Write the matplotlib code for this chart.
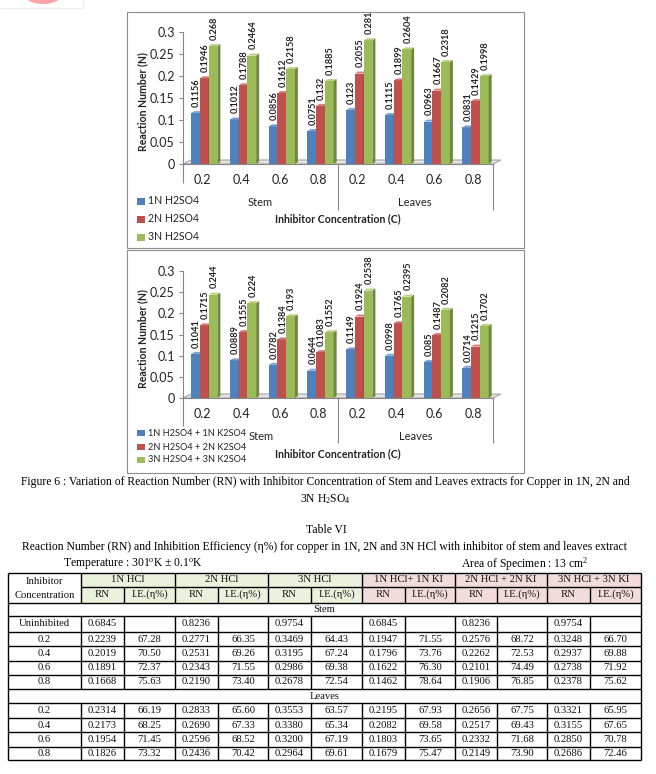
import matplotlib
matplotlib.use("Agg")
import matplotlib.pyplot as plt
from matplotlib.patches import Rectangle, Polygon, Ellipse

plt.rcParams['mathtext.default'] = 'regular'

# chart data
conc = ["0.2", "0.4", "0.6", "0.8", "0.2", "0.4", "0.6", "0.8"]
y_ticks = [0, 0.05, 0.1, 0.15, 0.2, 0.25, 0.3]
y_tick_labels = ["0", "0.05", "0.1", "0.15", "0.2", "0.25", "0.3"]

h1 = [0.1156, 0.1012, 0.0856, 0.0751, 0.123, 0.1115, 0.0963, 0.0831]
h2 = [0.1946, 0.1788, 0.1612, 0.132, 0.2055, 0.1899, 0.1667, 0.1429]
h3 = [0.268, 0.2464, 0.2158, 0.1885, 0.281, 0.2604, 0.2318, 0.1998]
h1_labels = ["0.1156", "0.1012", "0.0856", "0.0751", "0.123", "0.1115", "0.0963", "0.0831"]
h2_labels = ["0.1946", "0.1788", "0.1612", "0.132", "0.2055", "0.1899", "0.1667", "0.1429"]
h3_labels = ["0.268", "0.2464", "0.2158", "0.1885", "0.281", "0.2604", "0.2318", "0.1998"]

k1 = [0.1041, 0.0889, 0.0782, 0.0644, 0.1149, 0.0998, 0.085, 0.0714]
k2 = [0.1715, 0.1555, 0.1384, 0.1083, 0.1924, 0.1765, 0.1487, 0.1215]
k3 = [0.244, 0.224, 0.193, 0.1552, 0.2538, 0.2395, 0.2082, 0.1702]
k1_labels = ["0.1041", "0.0889", "0.0782", "0.0644", "0.1149", "0.0998", "0.085", "0.0714"]
k2_labels = ["0.1715", "0.1555", "0.1384", "0.1083", "0.1924", "0.1765", "0.1487", "0.1215"]
k3_labels = ["0.244", "0.224", "0.193", "0.1552", "0.2538", "0.2395", "0.2082", "0.1702"]

legend1 = ["1N H2SO4", "2N H2SO4", "3N H2SO4"]
legend2 = ["1N H2SO4 + 1N K2SO4", "2N H2SO4 + 2N K2SO4", "3N H2SO4 + 3N K2SO4"]

# table data
acid_heads = ["1N HCl", "2N HCl", "3N HCl", "1N HCl+ 1N KI", "2N HCl + 2N KI", "3N HCl + 3N KI"]
stem_rows = [
    ["Uninhibited", "0.6845", "", "0.8236", "", "0.9754", "", "0.6845", "", "0.8236", "", "0.9754", ""],
    ["0.2", "0.2239", "67.28", "0.2771", "66.35", "0.3469", "64.43", "0.1947", "71.55", "0.2576", "68.72", "0.3248", "66.70"],
    ["0.4", "0.2019", "70.50", "0.2531", "69.26", "0.3195", "67.24", "0.1796", "73.76", "0.2262", "72.53", "0.2937", "69.88"],
    ["0.6", "0.1891", "72.37", "0.2343", "71.55", "0.2986", "69.38", "0.1622", "76.30", "0.2101", "74.49", "0.2738", "71.92"],
    ["0.8", "0.1668", "75.63", "0.2190", "73.40", "0.2678", "72.54", "0.1462", "78.64", "0.1906", "76.85", "0.2378", "75.62"],
]
leaves_rows = [
    ["0.2", "0.2314", "66.19", "0.2833", "65.60", "0.3553", "63.57", "0.2195", "67.93", "0.2656", "67.75", "0.3321", "65.95"],
    ["0.4", "0.2173", "68.25", "0.2690", "67.33", "0.3380", "65.34", "0.2082", "69.58", "0.2517", "69.43", "0.3155", "67.65"],
    ["0.6", "0.1954", "71.45", "0.2596", "68.52", "0.3200", "67.19", "0.1803", "73.65", "0.2332", "71.68", "0.2850", "70.78"],
    ["0.8", "0.1826", "73.32", "0.2436", "70.42", "0.2964", "69.61", "0.1679", "75.47", "0.2149", "73.90", "0.2686", "72.46"],
]

W, H = 656, 774
sans = "Lato"
serif = "Liberation Serif"
front = ["#4F81BD", "#C0504D", "#9BBB59"]
side = ["#3A6090", "#8C3A38", "#6F8840"]
cap = ["#7FA3D0", "#D27C7A", "#B9D083"]

fig = plt.figure(figsize=(W / 100, H / 100), dpi=100)
fig.patch.set_facecolor("white")

# whole page axes in pixels, for frames, captions and the table
page = fig.add_axes([0, 0, 1, 1])
page.set_xlim(0, W)
page.set_ylim(H, 0)
page.axis("off")


def vline(x, y0, y1, color="black", lw=1.0):
    page.plot([x, x], [y0, y1], color=color, lw=lw, solid_capstyle="butt")


def hline(y, x0, x1, color="black", lw=1.0):
    page.plot([x0, x1], [y, y], color=color, lw=lw, solid_capstyle="butt")


def draw_chart(top, bottom, frame_top, frame_bottom, s1, s2, s3, l1, l2, l3, legend, leg):
    page.add_patch(Rectangle((127, frame_top), 397, frame_bottom - frame_top, fc="white", ec="#8C8C8C", lw=0.8))
    ax = fig.add_axes([183 / W, 1 - bottom / H, 310 / W, (bottom - top) / H])
    ax.patch.set_alpha(0)
    ax.set_xlim(0, 8)
    ax.set_ylim(0, 0.3)
    for s in ["top", "right"]:
        ax.spines[s].set_visible(False)
    ax.spines["left"].set_color("#868686")
    ax.spines["bottom"].set_color("#868686")
    ax.set_xticks([])
    ax.set_yticks(y_ticks)
    ax.set_yticklabels(y_tick_labels, fontsize=9, family=sans, color="#222222")
    ax.tick_params(axis="y", length=3, width=0.8, color="#868686", pad=3)

    # 3d look, sizes in data units
    px = 8 / 310
    py = 0.3 / (bottom - top)
    ax.add_patch(Polygon([(0, 0), (8 * px, 4 * py), (8 + 8 * px, 4 * py), (8, 0)], closed=True,
                         fc="#E4E4E4", ec="#A6A6A6", lw=0.8, clip_on=False))

    bw = 0.225
    dx = 3 * px
    dy = 2 * py
    for k, (vals, labs) in enumerate([(s1, l1), (s2, l2), (s3, l3)]):
        xs = [i + 0.55 + (k - 1) * bw for i in range(8)]
        ax.bar(xs, vals, bw, color=front[k], zorder=3 + k)
        for x, v, lab in zip(xs, vals, labs):
            x0 = x - bw / 2
            x1 = x + bw / 2
            ax.add_patch(Polygon([(x1, 0), (x1 + dx, dy), (x1 + dx, v + dy), (x1, v)], closed=True,
                                 fc=side[k], ec="none", zorder=3 + k, clip_on=False))
            ax.add_patch(Polygon([(x0, v), (x0 + dx, v + dy), (x1 + dx, v + dy), (x1, v)], closed=True,
                                 fc=cap[k], ec="none", zorder=3 + k, clip_on=False))
            ax.annotate(lab, (x, v), xytext=(0.7, 4.5), textcoords="offset points", rotation=90,
                        ha="center", va="bottom", fontsize=6.6, family=sans, fontweight="bold",
                        color="#222222", annotation_clip=False, zorder=10)

    # multi level category axis
    vline(183, bottom, leg["left_end"], "#868686", 0.8)
    vline(338, bottom, leg["sep_end"], "#868686", 0.8)
    vline(493, bottom, leg["sep_end"], "#868686", 0.8)
    for i, lab in enumerate(conc):
        page.text(183 + (i + 0.5) * 38.75, leg["tick_y"], lab, ha="center", va="center",
                  fontsize=9, family=sans, color="#222222")
    page.text(leg["stem_x"], leg["group_y"], "Stem", ha="center", va="center", fontsize=8, family=sans, color="#222222")
    page.text(leg["stem_x"] + 155, leg["group_y"], "Leaves", ha="center", va="center", fontsize=8, family=sans, color="#222222")
    page.text(338, leg["title_y"], "Inhibitor Concentration (C)", ha="center", va="center",
              fontsize=7.6, family=sans, fontweight="bold", color="#222222")
    page.text(143, (top + bottom) / 2 + leg["ytitle_dy"], "Reaction Number (N)", rotation=90, ha="center", va="center",
              fontsize=7.6, family=sans, fontweight="bold", color="#222222")
    for k, lab in enumerate(legend):
        y = leg["ys"][k]
        page.add_patch(Rectangle((137, y - leg["box_h"] / 2), 8, leg["box_h"], fc=front[k], ec="none"))
        page.text(148, y, lab, ha="left", va="center", fontsize=leg["font"], family=sans, color="#222222")


draw_chart(32, 164, 12, 248, h1, h2, h3, h1_labels, h2_labels, h3_labels, legend1,
           {"left_end": 183, "sep_end": 210, "tick_y": 180, "stem_x": 260, "group_y": 202, "title_y": 219,
            "ytitle_dy": 4, "ys": [201, 219, 237], "box_h": 7, "font": 7.6})
draw_chart(271, 398, 250, 473, k1, k2, k3, k1_labels, k2_labels, k3_labels, legend2,
           {"left_end": 426, "sep_end": 443, "tick_y": 414, "stem_x": 261, "group_y": 436, "title_y": 454,
            "ytitle_dy": 4, "ys": [433, 447, 460], "box_h": 6, "font": 6.6})

# remains of the page above the charts
page.add_patch(Ellipse((43, -6), 38, 20, fc="#F9A3A3", ec="none"))
hline(8, 0, 83, "#EEEEEE")
vline(83, 0, 8, "#EEEEEE")

# captions
cap_size = 8.38
page.text(325, 482, "Figure 6 : Variation of Reaction Number (RN) with Inhibitor Concentration of Stem and Leaves extracts for Copper in 1N, 2N and",
          ha="center", va="center", fontsize=cap_size, family=serif)
page.text(325, 499, "3N H$_2$SO$_4$", ha="center", va="center", fontsize=cap_size, family=serif)
page.text(326, 530, "Table VI", ha="center", va="center", fontsize=cap_size, family=serif)
page.text(325, 547, "Reaction Number (RN) and Inhibition Efficiency (\u03b7%) for copper in 1N, 2N and 3N HCl with inhibitor of stem and leaves extract",
          ha="center", va="center", fontsize=cap_size, family=serif)
page.text(63, 564, "Temperature : 301$^o$K \u00b1 0.1$^o$K", ha="left", va="center", fontsize=cap_size, family=serif)
page.text(461, 564, "Area of Specimen : 13 cm$^2$", ha="left", va="center", fontsize=cap_size, family=serif)

# table
col_x = [8, 81, 124, 175, 218, 268, 311, 362, 405, 455, 497, 547, 590, 641]
head_y = [573, 587, 603]
stem_y = [603, 616, 632, 646, 661, 675, 689]
leaves_y = [689, 703, 718, 732, 747, 760]
cell_size = 7.7

page.add_patch(Rectangle((col_x[1], head_y[0]), col_x[7] - col_x[1], head_y[2] - head_y[0], fc="#EAF1DD", ec="none"))
page.add_patch(Rectangle((col_x[7], head_y[0]), col_x[13] - col_x[7], head_y[2] - head_y[0], fc="#F2DCDB", ec="none"))

for y in [573, 603, 616, 632, 646, 661, 675, 689, 703, 718, 732, 747, 760]:
    hline(y, col_x[0], col_x[13])
hline(587, col_x[1], col_x[13])

for x in [col_x[0], col_x[13]]:
    vline(x, 573, 760)
for j, x in enumerate(col_x[1:13]):
    top_y = 573 if j % 2 == 0 else 587
    for y0, y1 in [(top_y, 603), (616, 689), (703, 760)]:
        vline(x, y0, y1)


def cell(x, y, s, size=cell_size):
    page.text(x, y, s, ha="center", va="center", fontsize=size, family=serif, color="#111111")


cell((col_x[0] + col_x[1]) / 2, 581, "Inhibitor")
cell((col_x[0] + col_x[1]) / 2, 595, "Concentration")
for i, lab in enumerate(acid_heads):
    cell((col_x[1 + 2 * i] + col_x[3 + 2 * i]) / 2, 580, lab)
    cell((col_x[1 + 2 * i] + col_x[2 + 2 * i]) / 2, 594.5, "RN")
    cell((col_x[2 + 2 * i] + col_x[3 + 2 * i]) / 2, 594.5, "I.E.(\u03b7%)")

cell((col_x[0] + col_x[13]) / 2, 610, "Stem")
cell((col_x[0] + col_x[13]) / 2, 696.5, "Leaves")


def fill_rows(rows, ys):
    for r, row in enumerate(rows):
        y = (ys[r] + ys[r + 1]) / 2
        for c, s in enumerate(row):
            cell((col_x[c] + col_x[c + 1]) / 2, y, s)


fill_rows(stem_rows, stem_y[1:])
fill_rows(leaves_rows, leaves_y[1:])

fig.savefig("out.png", dpi=100)
